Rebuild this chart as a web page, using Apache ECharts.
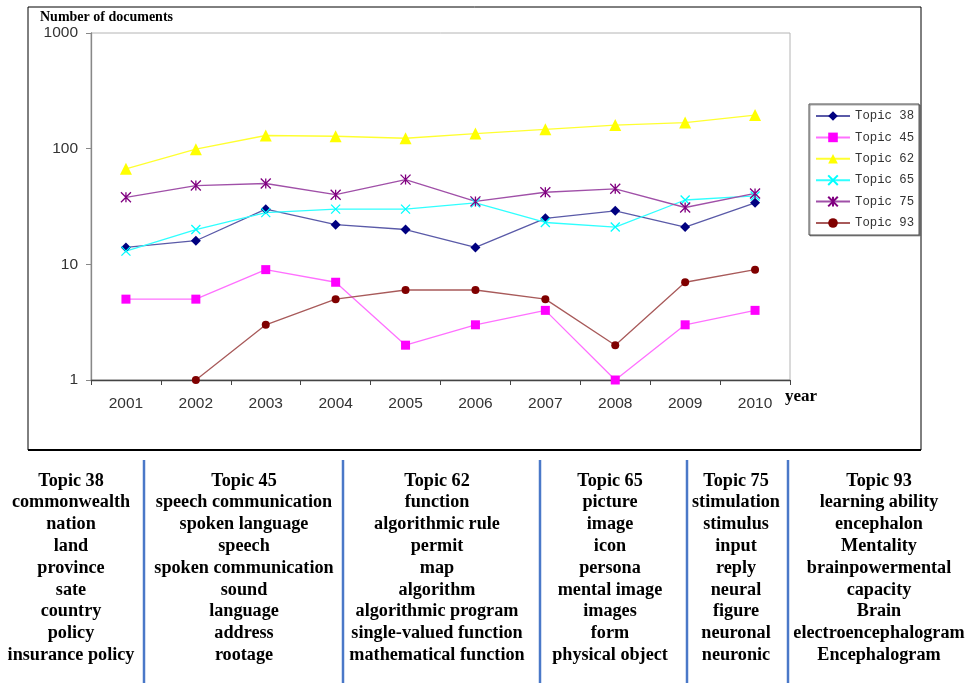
<!DOCTYPE html>
<html>
<head>
<meta charset="utf-8">
<script src="https://cdn.jsdelivr.net/npm/echarts@6/dist/echarts.min.js"></script>
<style>
html, body { margin: 0; padding: 0; background: #fff; }
#chart { width: 968px; height: 683px; }
</style>
</head>
<body>
<div id="chart"></div>
<script>
// Yearly document counts per topic
const years = ['2001', '2002', '2003', '2004', '2005', '2006', '2007', '2008', '2009', '2010'];
const topic38 = [14, 16, 30, 22, 20, 14, 25, 29, 21, 34];
const topic45 = [5, 5, 9, 7, 2, 3, 4, 1, 3, 4];
const topic62 = [67, 99, 130, 128, 123, 135, 147, 160, 168, 195];
const topic65 = [13, 20, 28, 30, 30, 34, 23, 21, 36, 39];
const topic75 = [38, 48, 50, 40, 54, 35, 42, 45, 31, 41];
const topic93 = [null, 1, 3, 5, 6, 6, 5, 2, 7, 9];
const yTicks = [1, 10, 100, 1000];

// Keyword lists shown under the chart
const words38 = ['Topic 38', 'commonwealth', 'nation', 'land', 'province', 'sate', 'country', 'policy', 'insurance policy'];
const words45 = ['Topic 45', 'speech communication', 'spoken language', 'speech', 'spoken communication', 'sound', 'language', 'address', 'rootage'];
const words62 = ['Topic 62', 'function', 'algorithmic rule', 'permit', 'map', 'algorithm', 'algorithmic program', 'single-valued function', 'mathematical function'];
const words65 = ['Topic 65', 'picture', 'image', 'icon', 'persona', 'mental image', 'images', 'form', 'physical object'];
const words75 = ['Topic 75', 'stimulation', 'stimulus', 'input', 'reply', 'neural', 'figure', 'neuronal', 'neuronic'];
const words93 = ['Topic 93', 'learning ability', 'encephalon', 'Mentality', 'brainpowermental', 'capacity', 'Brain', 'electroencephalogram', 'Encephalogram'];

const chart = echarts.init(document.getElementById('chart'), null, { renderer: 'canvas' });

const crossPath = 'path://M0,0L10,10M10,0L0,10';
const starPath = 'path://M5,0L5,10M0,0L10,10M10,0L0,10';

function lineSeries(name, data, lineColor, markColor, symbol, size, stroke) {
  return {
    name: name,
    type: 'line',
    data: data,
    symbol: symbol,
    symbolSize: size,
    showSymbol: true,
    connectNulls: false,
    animation: false,
    lineStyle: { color: lineColor, width: 1.3 },
    itemStyle: stroke
      ? { color: markColor, borderColor: markColor, borderWidth: 1.3 }
      : { color: markColor, borderWidth: 0 },
    emphasis: { disabled: true }
  };
}

// Keyword table graphics
const columns = [
  { words: words38, x: 71 },
  { words: words45, x: 244 },
  { words: words62, x: 437 },
  { words: words65, x: 610 },
  { words: words75, x: 736 },
  { words: words93, x: 879 }
];
const separators = [144, 343, 540, 687, 788];

const graphics = [];
// outer frame around the chart
graphics.push({
  type: 'rect', silent: true, z: 0,
  shape: { x: 28, y: 7, width: 893, height: 443 },
  style: { fill: 'none', stroke: '#000', lineWidth: 1 }
});
graphics.push({
  type: 'line', silent: true,
  shape: { x1: 28, y1: 450, x2: 921, y2: 450 },
  style: { stroke: '#000', lineWidth: 2.2 }
});
graphics.push({
  type: 'text', silent: true,
  style: { text: 'Number of documents', x: 40, y: 17, font: 'bold 14px "Liberation Serif", serif', fill: '#000', align: 'left', verticalAlign: 'middle' }
});
graphics.push({
  type: 'text', silent: true,
  style: { text: 'year', x: 785, y: 397, font: 'bold 17px "Liberation Serif", serif', fill: '#000', align: 'left', verticalAlign: 'middle' }
});
separators.forEach(function (sx) {
  graphics.push({
    type: 'line', silent: true,
    shape: { x1: sx, y1: 460, x2: sx, y2: 683 },
    style: { stroke: '#4a78c8', lineWidth: 2.5 }
  });
});
columns.forEach(function (col) {
  col.words.forEach(function (w, i) {
    graphics.push({
      type: 'text', silent: true,
      style: {
        text: w, x: col.x, y: 481 + i * 21.8,
        font: 'bold 18.2px "Liberation Serif", "Times New Roman", serif',
        fill: '#000', align: 'center', verticalAlign: 'middle'
      }
    });
  });
});

const option = {
  backgroundColor: '#fff',
  animation: false,
  grid: {
    left: 91, top: 33, width: 699, height: 347,
    show: true, borderColor: '#b4b4b4', borderWidth: 1, backgroundColor: 'transparent'
  },
  legend: {
    orient: 'vertical',
    left: 809, top: 104,
    padding: [6, 5, 6, 6],
    itemWidth: 34, itemHeight: 12, itemGap: 9.4,
    backgroundColor: '#fff',
    borderColor: '#4a4a4a', borderWidth: 1,
    shadowColor: 'rgba(0,0,0,0.35)', shadowOffsetX: 1, shadowOffsetY: 1, shadowBlur: 0,
    textStyle: { fontFamily: '"Liberation Mono", monospace', fontSize: 12.3, color: '#333' },
    selectedMode: false
  },
  xAxis: {
    type: 'category',
    data: years,
    boundaryGap: true,
    axisLine: { lineStyle: { color: '#444', width: 1.3 } },
    axisTick: { show: true, length: 5, alignWithLabel: false, lineStyle: { color: '#444' } },
    axisLabel: { fontFamily: '"Liberation Sans", Arial, sans-serif', fontSize: 15.5, color: '#333', margin: 16 },
    splitLine: { show: false }
  },
  yAxis: {
    type: 'log',
    logBase: 10,
    min: yTicks[0],
    max: yTicks[yTicks.length - 1],
    axisLine: { show: true, lineStyle: { color: '#888', width: 1.3 } },
    axisTick: { show: true, length: 5, lineStyle: { color: '#888' } },
    minorTick: { show: false },
    axisLabel: {
      fontFamily: '"Liberation Sans", Arial, sans-serif', fontSize: 15.5, color: '#333', margin: 13,
      formatter: function (v) { return String(Math.round(v)); }
    },
    splitLine: { show: false }
  },
  series: [
    lineSeries('Topic 38', topic38, '#5a5aa8', '#000080', 'diamond', 10, false),
    lineSeries('Topic 45', topic45, '#ff70ff', '#ff00ff', 'rect', 9, false),
    lineSeries('Topic 62', topic62, '#ffff30', '#ffff00', 'triangle', 12, false),
    lineSeries('Topic 65', topic65, '#30ffff', '#00ffff', crossPath, 9, true),
    lineSeries('Topic 75', topic75, '#a050a8', '#800080', starPath, 10, true),
    lineSeries('Topic 93', topic93, '#a85a5a', '#800000', 'circle', 8, false)
  ],
  graphic: graphics
};

chart.setOption(option);
</script>
</body>
</html>
